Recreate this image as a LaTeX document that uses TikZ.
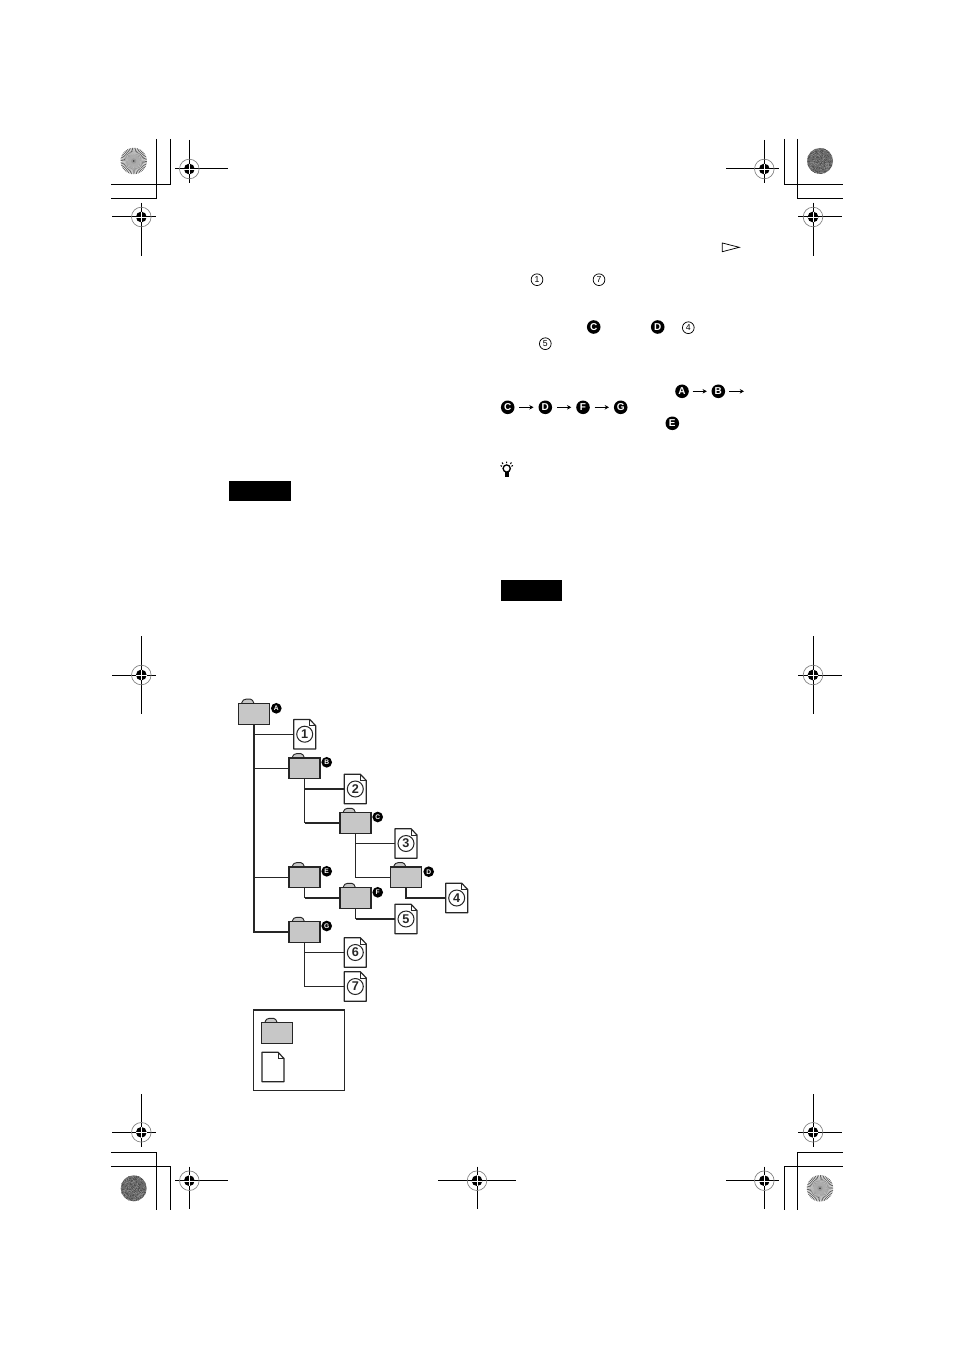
\documentclass[tikz,border=0pt]{standalone}
\usepackage{fontspec}
\setmainfont{Liberation Sans}
\usetikzlibrary{arrows.meta}
\definecolor{foldergray}{gray}{0.78}
\definecolor{inkblack}{gray}{0.15}
\tikzset{
  x=0.75pt,y=-0.75pt,
  folderbox/.style={draw=inkblack,line width=0.85pt,fill=foldergray,minimum width=23.2pt,minimum height=15.5pt,inner sep=0pt,outer sep=0pt},
  filebox/.style={minimum width=16.5pt,minimum height=22.3pt,inner sep=0pt,outer sep=0pt},
  filenum/.style={circle,draw=inkblack,line width=0.75pt,minimum size=12pt,inner sep=0pt,font=\fontsize{9.5}{9.5}\selectfont\bfseries,text=inkblack},
  badge/.style={circle,fill=black,text=white,minimum size=8pt,inner sep=0pt,font=\fontsize{5}{5}\selectfont\bfseries},
  bigbadge/.style={circle,fill=black,text=white,minimum size=10.2pt,inner sep=0pt,font=\fontsize{7.5}{7.5}\selectfont\bfseries},
  numring/.style={circle,draw=black,line width=0.55pt,minimum size=8.8pt,inner sep=0pt,font=\fontsize{6.5}{6.5}\selectfont},
  thinlink/.style={draw=inkblack,line width=0.7pt},
  thicklink/.style={draw=inkblack,line width=1.5pt},
  stepto/.style={-{Stealth[length=3.2pt,width=3.4pt]},line width=0.7pt},
  markline/.style={line width=0.75pt,black},
  cropline/.style={line width=0.8pt,black},
}
% folder: name, x, y of the centre
\newcommand{\folderat}[3]{%
  \fill[foldergray,draw=inkblack,line width=0.7pt] (#2-12.5,#3-10.3) .. controls (#2-11,#3-14) and (#2-10,#3-14.6) .. (#2-8,#3-14.6) -- (#2-3.5,#3-14.6) .. controls (#2-1.8,#3-14.6) and (#2-1,#3-13) .. (#2+0,#3-10.3) -- cycle;
  \node[folderbox] (#1) at (#2,#3) {};}
% file: name, x, y of the centre, text of the number
\newcommand{\fileat}[4]{%
  \node[filebox] (#1) at (#2,#3) {};
  \draw[inkblack,line width=0.9pt,fill=white,line join=round] (#2-11,#3-14.8) -- (#2+5,#3-14.8) -- (#2+11,#3-8.5) -- (#2+11,#3+14.8) -- (#2-11,#3+14.8) -- cycle;
  \draw[inkblack,line width=0.4pt] (#2+5,#3-14.8) -- (#2+5,#3-8.5) -- (#2+11,#3-8.5);
  \ifx&#4&\else\node[filenum] (#1n) at (#2,#3) {#4};\fi}
% registration mark: x, y, left, right, top, bottom
\newcommand{\regmark}[6]{%
  \draw[markline] (#3,#2) -- (#4,#2) (#1,#5) -- (#1,#6);
  \draw[gray,line width=0.5pt] (#1,#2) circle[radius=9.8];
  \fill[black] (#1,#2) circle[radius=5.4];
  \draw[white,line width=0.25pt] (#1-5.4,#2) -- (#1+5.4,#2) (#1,#2-5.4) -- (#1,#2+5.4);}
% radial disc: x, y
\newcommand{\raydisc}[2]{%
  \fill[white] (#1,#2) circle[radius=13];
  \foreach \a in {0,7.5,...,352.5}{\fill[black!62] (#1,#2) -- ++(\a:13.2) arc[start angle=\a,delta angle=3.75,radius=13.2] -- cycle;}
  \fill[gray!55,opacity=0.55] (#1,#2) circle[radius=9];
  \fill[gray!65,opacity=0.7] (#1,#2) circle[radius=6];
  \fill[gray!80] (#1,#2) circle[radius=2.6];
  \fill[black!80] (#1,#2) circle[radius=0.9];}
% noisy disc: x, y
\newcommand{\noisedisc}[2]{%
  \fill[black!58] (#1,#2) circle[radius=13];
  \begin{scope}
  \clip (#1,#2) circle[radius=13];
  \pgfmathsetseed{7}
  \foreach \k in {1,...,200}{
    \pgfmathsetmacro{\dx}{rand*13}\pgfmathsetmacro{\dy}{rand*13}
    \fill[black!68] (#1+\dx-0.5,#2+\dy-0.5) rectangle ++(1,1);}
  \foreach \k in {1,...,130}{
    \pgfmathsetmacro{\dx}{rand*13}\pgfmathsetmacro{\dy}{rand*13}
    \fill[black!48] (#1+\dx-0.5,#2+\dy-0.5) rectangle ++(1,1);}
  \end{scope}}
\begin{document}
\begin{tikzpicture}
\useasboundingbox[fill=white] (0,0) rectangle (954,1351);

% crop corners
\draw[cropline] (170.3,139) -- (170.3,184.3) -- (111,184.3);
\draw[cropline] (156.3,139) -- (156.3,198.3) -- (111,198.3);
\draw[cropline] (784.3,139) -- (784.3,184.3) -- (842.7,184.3);
\draw[cropline] (797.3,139) -- (797.3,198.3) -- (842.7,198.3);
\draw[cropline] (111,1152.3) -- (156.3,1152.3) -- (156.3,1210);
\draw[cropline] (111,1166.3) -- (170.3,1166.3) -- (170.3,1210);
\draw[cropline] (842.7,1152.3) -- (797.3,1152.3) -- (797.3,1210);
\draw[cropline] (842.7,1166.3) -- (784.3,1166.3) -- (784.3,1210);

% registration marks
\regmark{189.3}{169}{175}{227.7}{140}{182.7}
\regmark{141.3}{217}{112}{156}{202.7}{255.7}
\regmark{764.3}{169}{726}{779}{140}{182.7}
\regmark{813}{217}{798}{842}{202.7}{255.7}
\regmark{141.3}{675}{112}{156}{636}{714}
\regmark{813}{675}{798}{842}{636}{714}
\regmark{141.3}{1132.3}{112}{156}{1094}{1146.7}
\regmark{813}{1132.3}{798}{842}{1094}{1146.7}
\regmark{189.3}{1180.7}{175}{227.7}{1166.7}{1209.3}
\regmark{764.3}{1180.7}{726}{779}{1166.7}{1209.3}
\regmark{477}{1180.7}{438}{516}{1166.7}{1209.3}

% discs
\raydisc{133.7}{161}
\noisedisc{820}{161}
\noisedisc{133.7}{1188.3}
\raydisc{820}{1188.3}

% black bars
\fill[black] (229,481) rectangle (291,500.5);
\fill[black] (501,580) rectangle (562,600.5);

% right column symbols
\draw[black,line width=0.55pt] (722.3,243) -- (739.3,247.3) -- (722.3,251.7) -- cycle;
\node[numring] (r1) at (537,279.7) {1};
\node[numring] (r7) at (599,279.7) {7};
\node[bigbadge] (t1) at (593.7,327) {C};
\node[bigbadge] (t2) at (657.7,327) {D};
\node[numring] (r4) at (688.3,327.7) {4};
\node[numring] (r5) at (545.3,343.7) {5};
\node[bigbadge] (sa) at (682,391.3) {A};
\node[bigbadge] (sb) at (718.3,391.3) {B};
\coordinate (sbend) at (744,391.3);
\node[bigbadge] (sc) at (507.7,407.3) {C};
\node[bigbadge] (sd) at (545.3,407.3) {D};
\node[bigbadge] (sf) at (583,407.3) {F};
\node[bigbadge] (sg) at (620.7,407.3) {G};
\node[bigbadge] (se) at (672.3,423.3) {E};
\draw[stepto,shorten <=2.7pt,shorten >=3.3pt] (sa) -- (sb);
\draw[stepto,shorten <=2.8pt] (sb) -- (sbend);
\draw[stepto,shorten <=3.5pt,shorten >=3.5pt] (sc) -- (sd);
\draw[stepto,shorten <=3.5pt,shorten >=3.5pt] (sd) -- (sf);
\draw[stepto,shorten <=3.5pt,shorten >=3.5pt] (sf) -- (sg);

% tip bulb
\draw[black,line width=1pt] (506.7,468.5) circle[radius=3.6];
\fill[black] (504.9,471.8) rectangle (508.7,476.5);
\draw[black,line width=0.8pt] (506.7,461.5) -- (506.7,463.2) (502,462.5) -- (503,464) (511.4,462.5) -- (510.4,464) (500.5,465.5) -- (502,466.3) (512.9,465.5) -- (511.4,466.3);

% folder tree
\folderat{fa}{254}{713.8}
\folderat{fb}{304.5}{768.3}
\folderat{fc}{355.5}{823}
\folderat{fd}{406}{877.3}
\folderat{fe}{304.5}{877.3}
\folderat{ff}{355.5}{898}
\folderat{fg}{304.5}{932}

\fileat{d1}{304.7}{734.2}{1}
\fileat{d2}{355.3}{789}{2}
\fileat{d3}{406}{843.5}{3}
\fileat{d4}{456.7}{898}{4}
\fileat{d5}{406}{919}{5}
\fileat{d6}{355.3}{952.5}{6}
\fileat{d7}{355.3}{986.5}{7}

\path[thinlink] (fa.south |- d1.west) -- (d1.west);
\path[thinlink] (fa.south |- fb.west) -- (fb.west);
\path[thinlink] (fa.south |- fe.west) -- (fe.west);
\path[thicklink] (fa.south) |- (fg.west);
\path[thinlink] (fb.south) -- (fb.south |- fc.west);
\path[thicklink] (fb.south |- d2.west) -- (d2.west);
\path[thicklink] (fb.south |- fc.west) -- (fc.west);
\path[thinlink] (fc.south) |- (d3.west);
\path[thinlink] (fc.south) |- (fd.west);
\path[thinlink] (fe.south) -- (fe.south |- ff.west);
\path[thicklink] (fe.south |- ff.west) -- (ff.west);
\path[thinlink] (ff.south) -- (ff.south |- d5.west);
\path[thicklink] (ff.south |- d5.west) -- (d5.west);
\path[thicklink] (fd.south) |- (d4.west);
\path[thinlink] (fg.south) |- (d6.west);
\path[thinlink] (fg.south) |- (d7.west);

\node[badge] (ba) at (276.3,708.3) {A};
\node[badge] (bb) at (326.7,762.3) {B};
\node[badge] (bc) at (377.7,817) {C};
\node[badge] (bd) at (428.7,871.7) {D};
\node[badge] (be) at (326.7,871.3) {E};
\node[badge] (bf) at (377.7,892.3) {F};
\node[badge] (bg) at (326.7,926) {G};

% legend
\draw[inkblack,line width=0.8pt] (253.7,1009.9) rectangle (344.3,1090.3);
\draw[inkblack,line width=1.2pt] (253.7,1009.9) -- (344.3,1009.9);
\folderat{lf}{277.2}{1033}
\fileat{ld}{273}{1067}{}
\end{tikzpicture}
\end{document}
